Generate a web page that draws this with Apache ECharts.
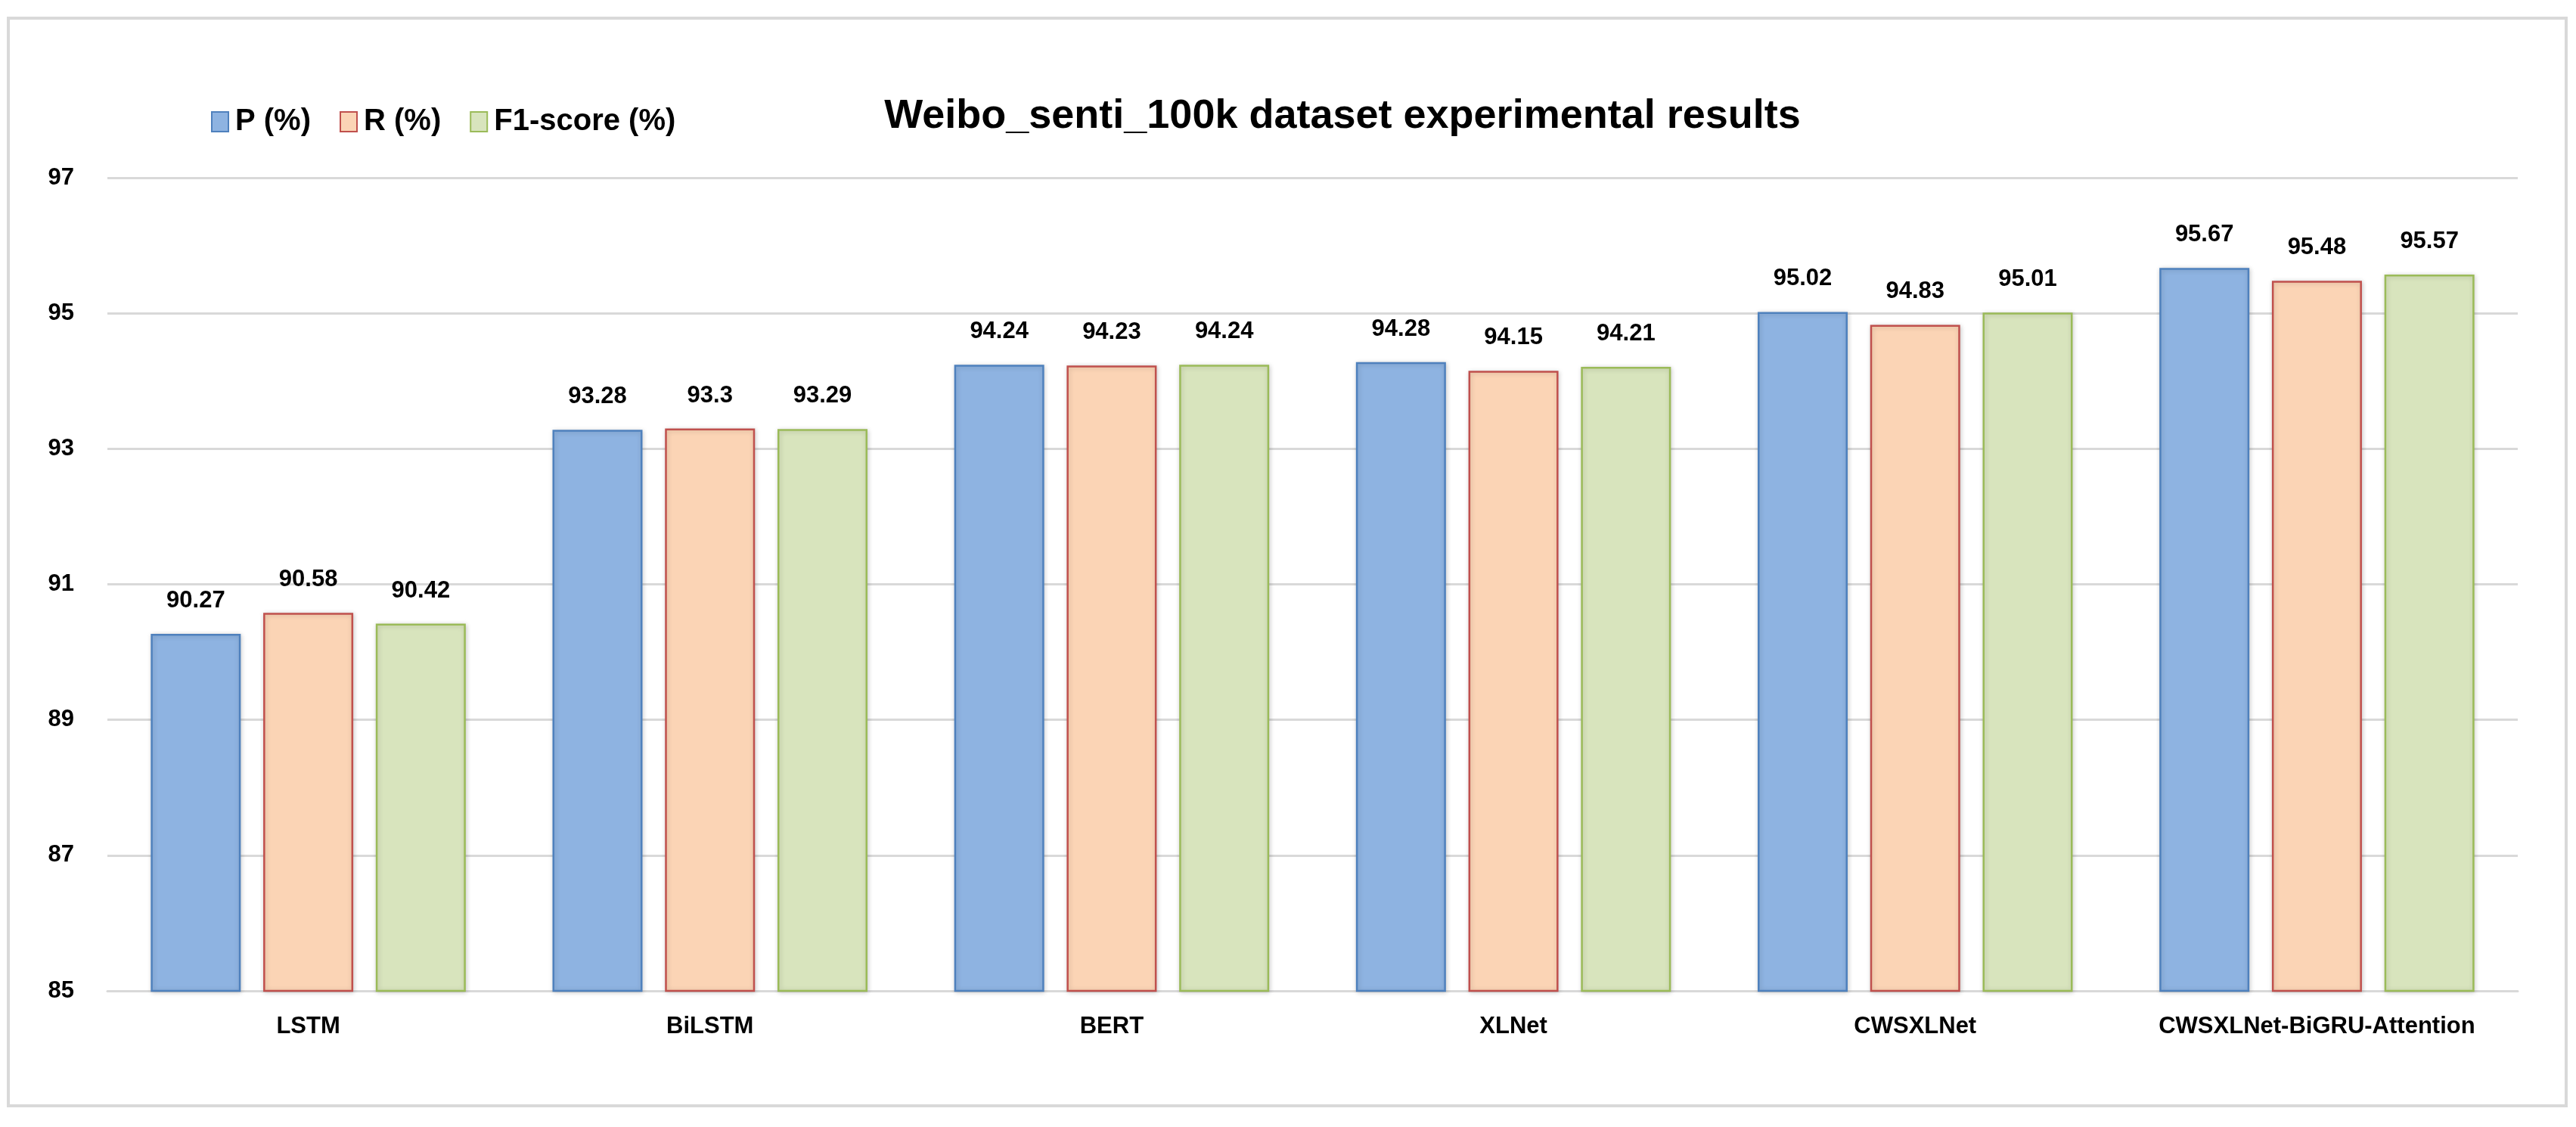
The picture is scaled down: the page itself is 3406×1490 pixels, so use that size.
<!DOCTYPE html>
<html>
<head>
<meta charset="utf-8">
<script src="https://cdn.jsdelivr.net/npm/echarts@6/dist/echarts.min.js"></script>
<style>
  html, body { margin: 0; padding: 0; background: #ffffff; }
  #chart { width: 3406px; height: 1490px; }
</style>
</head>
<body>
<div id="chart"></div>
<script>
const categories = ['LSTM', 'BiLSTM', 'BERT', 'XLNet', 'CWSXLNet', 'CWSXLNet-BiGRU-Attention'];
const pValues  = [90.27, 93.28, 94.24, 94.28, 95.02, 95.67];
const rValues  = [90.58, 93.3, 94.23, 94.15, 94.83, 95.48];
const f1Values = [90.42, 93.29, 94.24, 94.21, 95.01, 95.57];
const seriesNames = ['P (%)', 'R (%)', 'F1-score (%)'];
const yTicks = { min: 85, max: 97, interval: 2 };

const FONT = '"Liberation Sans", Arial, sans-serif';
const fills   = ['#8EB3E1', '#FBD4B5', '#D8E4BD'];
const borders = ['#4F81BD', '#C0504D', '#9BBB59'];
const allValues = [pValues, rValues, f1Values];

const chart = echarts.init(document.getElementById('chart'));

const series = allValues.map((vals, i) => ({
  name: seriesNames[i],
  type: 'bar',
  data: vals,
  barWidth: 119,
  barGap: '25%',
  itemStyle: {
    color: fills[i],
    borderColor: borders[i],
    borderWidth: 2.5,
    shadowColor: 'rgba(0,0,0,0.18)',
    shadowBlur: 6,
    shadowOffsetX: 1,
    shadowOffsetY: 1
  },
  label: {
    show: true,
    position: 'top',
    distance: 28,
    color: '#000',
    fontFamily: FONT,
    fontWeight: 'bold',
    fontSize: 31
  }
}));

chart.setOption({
  backgroundColor: '#ffffff',
  animation: false,
  title: {
    text: 'Weibo_senti_100k dataset experimental results',
    left: 1770,
    top: 122,
    textAlign: 'center',
    textStyle: {
      fontFamily: FONT,
      fontWeight: 'bold',
      fontSize: 54,
      color: '#000'
    }
  },
  legend: {
    left: 274,
    top: 136,
    icon: 'rect',
    itemWidth: 22,
    itemHeight: 26,
    itemGap: 38,
    textStyle: {
      fontFamily: FONT,
      fontWeight: 'bold',
      fontSize: 40,
      color: '#000',
      padding: [0, 0, 0, 4]
    },
    data: seriesNames
  },
  grid: {
    left: 142,
    right: 77,
    top: 235,
    bottom: 180,
    containLabel: false
  },
  xAxis: {
    type: 'category',
    data: categories,
    axisLine: { show: true, lineStyle: { color: '#D9D9D9', width: 3 } },
    axisTick: { show: false },
    axisLabel: {
      interval: 0,
      margin: 32,
      color: '#000',
      fontFamily: FONT,
      fontWeight: 'bold',
      fontSize: 31
    }
  },
  yAxis: {
    type: 'value',
    min: yTicks.min,
    max: yTicks.max,
    interval: yTicks.interval,
    axisLine: { show: false },
    axisTick: { show: false },
    splitLine: { lineStyle: { color: '#D9D9D9', width: 3 } },
    axisLabel: {
      margin: 44,
      color: '#000',
      fontFamily: FONT,
      fontWeight: 'bold',
      fontSize: 31
    }
  },
  graphic: [{
    type: 'rect',
    shape: { x: 11, y: 24, width: 3382, height: 1438 },
    style: { fill: 'none', stroke: '#D9D9D9', lineWidth: 4 },
    z: -1,
    silent: true
  }],
  series: series
});
</script>
</body>
</html>
